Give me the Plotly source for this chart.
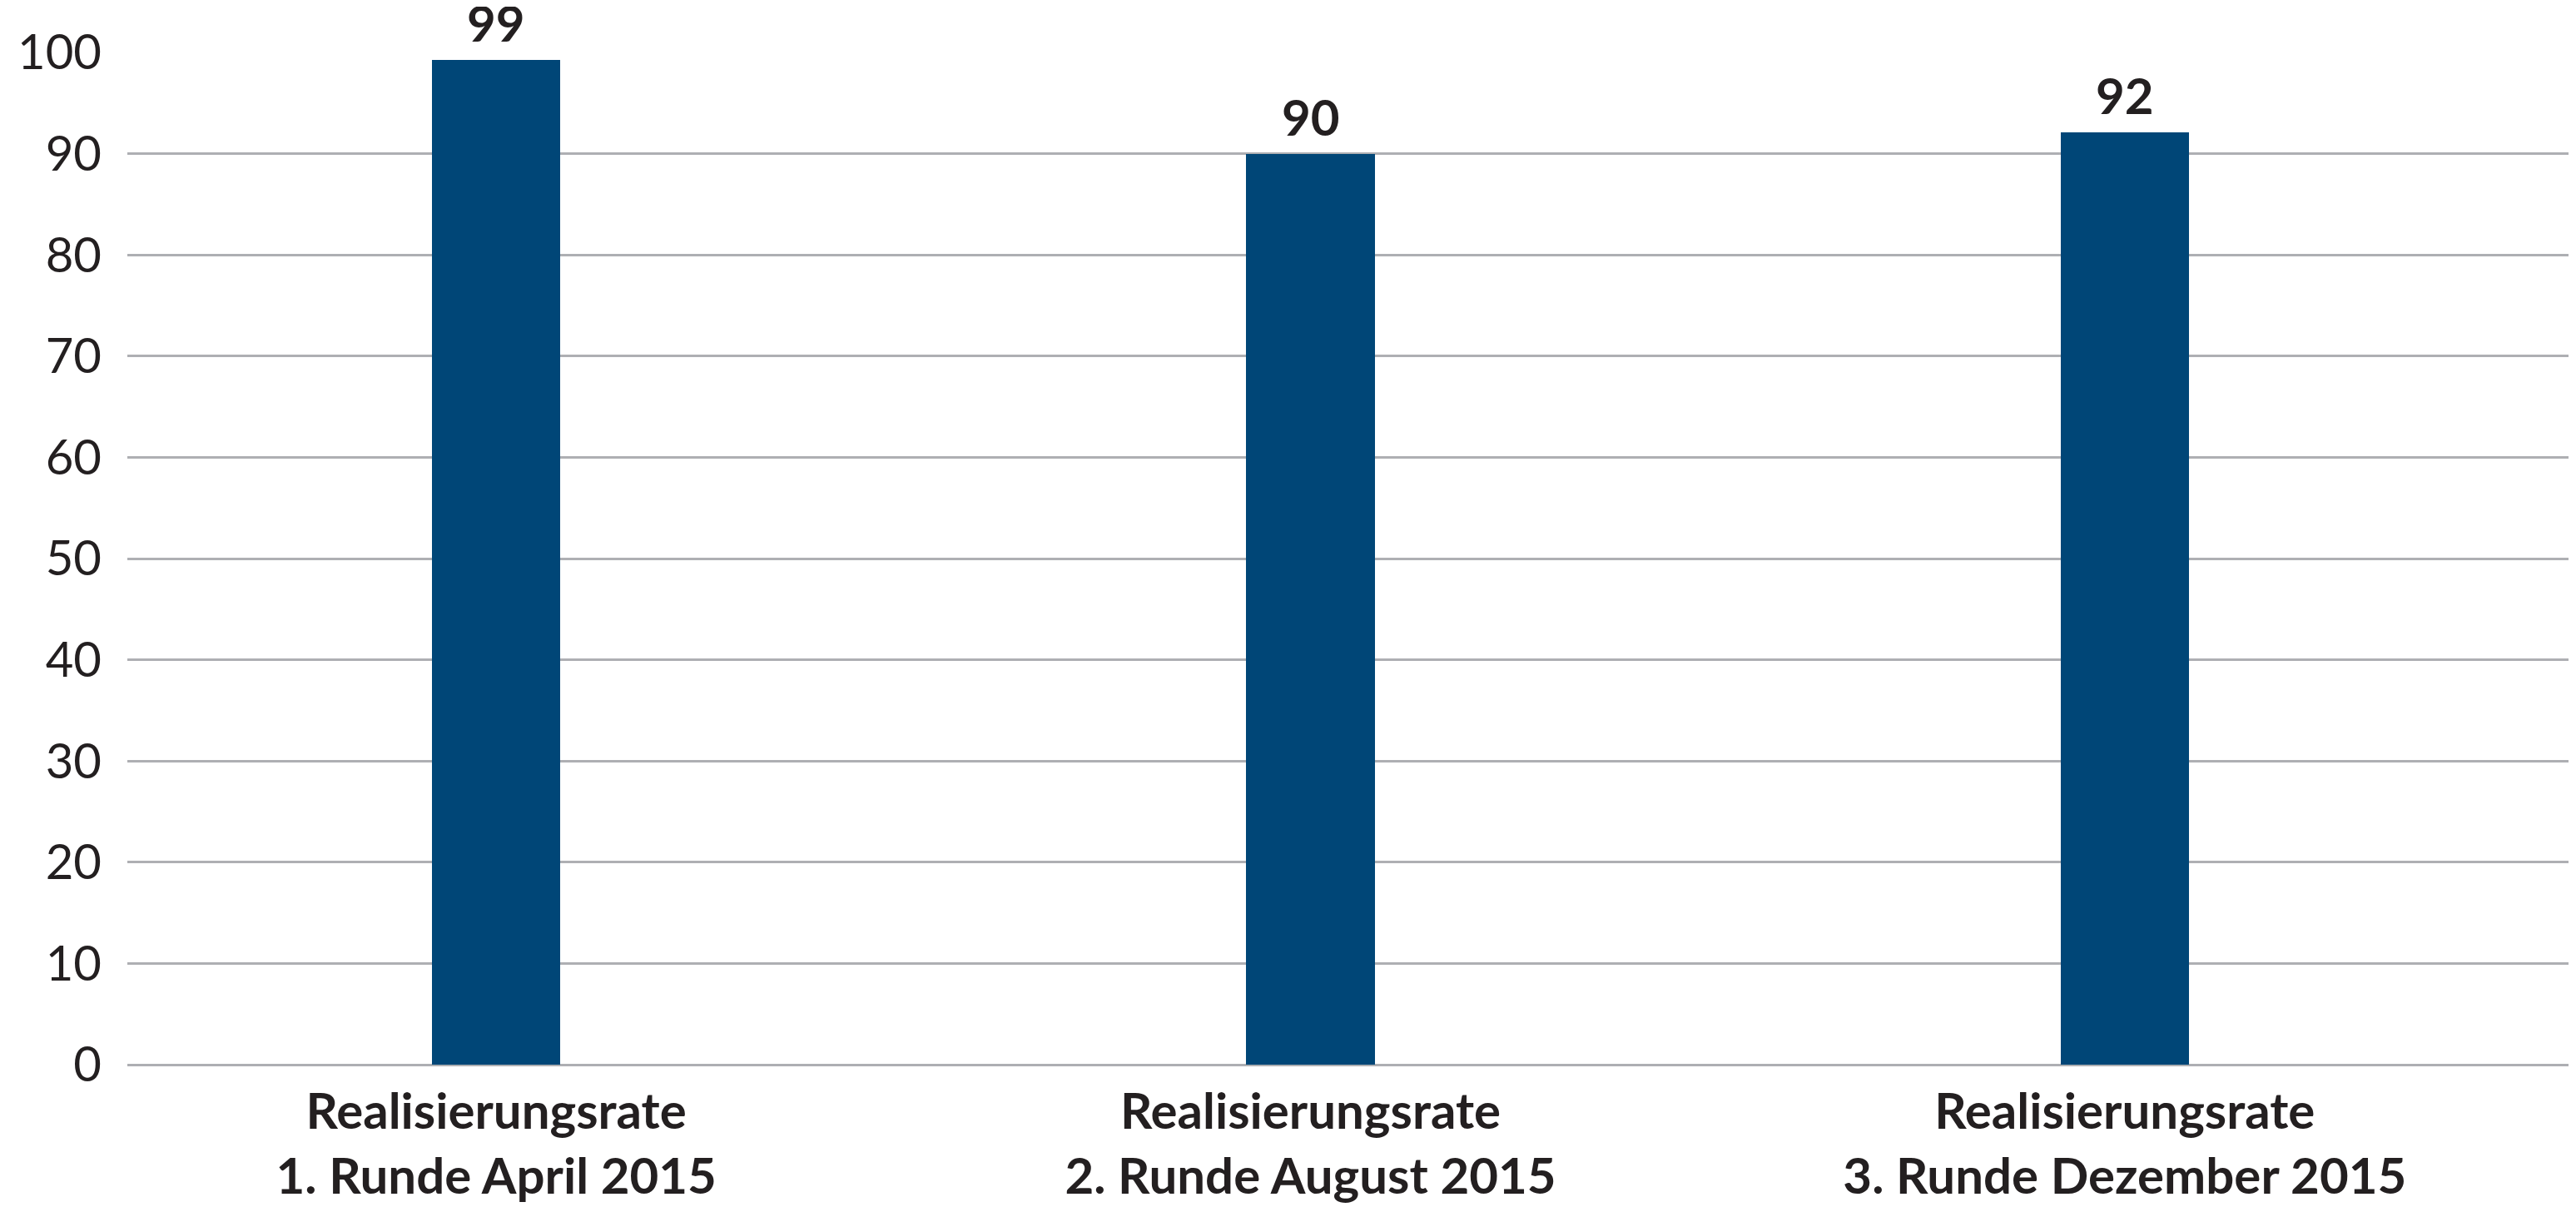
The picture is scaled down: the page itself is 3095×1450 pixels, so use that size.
import plotly.graph_objects as go

categories = ["Realisierungsrate<br>1. Runde April 2015",
              "Realisierungsrate<br>2. Runde August 2015",
              "Realisierungsrate<br>3. Runde Dezember 2015"]
values = [99.3, 90.0, 92.1]
labels = ["99", "90", "92"]
y_ticks = [0, 10, 20, 30, 40, 50, 60, 70, 80, 90, 100]

BAR = "#004677"
TXT = "#231f20"
GRID = "#aeafb3"
FONT = "Lato"

fig = go.Figure()
fig.add_trace(go.Bar(x=categories, y=values, marker_color=BAR, width=0.158,
                     marker_line_width=0, showlegend=False))

for c, v, t in zip(categories, values, labels):
    fig.add_annotation(x=c, y=v, text=t, showarrow=False, yanchor="bottom",
                       yshift=8, borderpad=0,
                       font=dict(family=FONT, size=60, color=TXT, weight="bold"))

fig.update_layout(
    width=3095, height=1450,
    margin=dict(l=145, r=17, t=55, b=179),
    plot_bgcolor="white", paper_bgcolor="white",
    bargap=0,
)
fig.update_xaxes(range=[-0.453, 2.545], showgrid=False, showline=False, ticks="",
                 tickfont=dict(family=FONT, size=60, color=TXT, weight="bold"),
                 ticklabelstandoff=16)
fig.update_yaxes(range=[0, 100], tickvals=y_ticks, showgrid=True, gridcolor=GRID,
                 gridwidth=3, zeroline=True, zerolinecolor=GRID, zerolinewidth=3,
                 showline=False, ticks="",
                 tickfont=dict(family=FONT, size=58, color=TXT),
                 ticklabelstandoff=30)

fig.write_html("out.html")
